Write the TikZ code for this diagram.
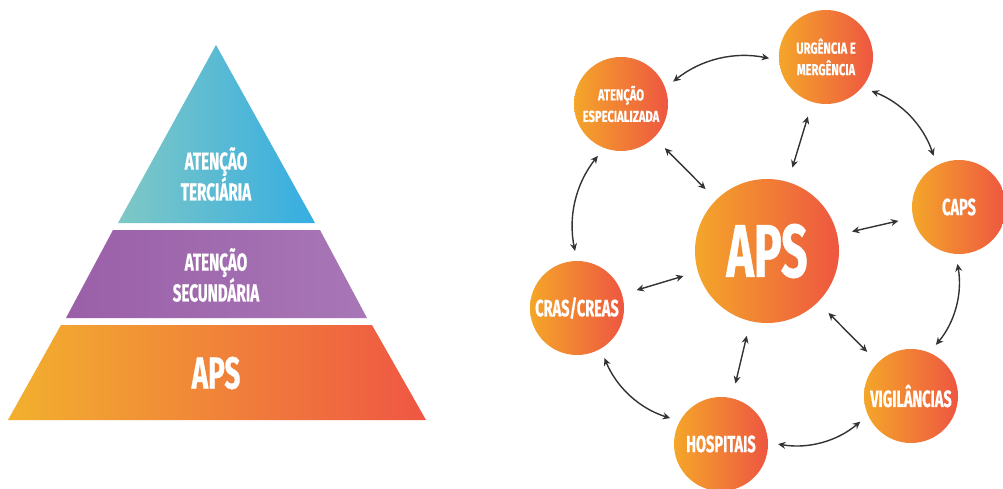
\documentclass[tikz,border=0pt]{standalone}
\usepackage{fontspec}
\newfontfamily\condfont[FakeStretch=0.62,FakeBold=0.6]{Fira Sans}
\newfontfamily\smallcondfont[FakeStretch=0.7,FakeBold=0.4]{Fira Sans}
\usetikzlibrary{arrows.meta}
\definecolor{tealL}{HTML}{7FC8C5}
\definecolor{tealR}{HTML}{35ADE2}
\definecolor{violetL}{HTML}{9A5FA8}
\definecolor{violetR}{HTML}{A877B6}
\definecolor{apsL}{HTML}{F2B02E}
\definecolor{apsR}{HTML}{EF5644}
\definecolor{ringL}{HTML}{F4A62A}
\definecolor{ringR}{HTML}{EE5641}
\definecolor{arrowgray}{HTML}{333333}
\begin{document}
\begin{tikzpicture}[
  x=1pt, y=1pt,
  whitetext/.style={text=white, align=center, inner sep=0pt},
  pyrtext/.style={whitetext, font=\condfont\bfseries\fontsize{24.5}{25.5}\selectfont},
  ring/.style={whitetext, circle, minimum size=94pt, left color=ringL, right color=ringR},
  smalltext/.style={font=\smallcondfont\bfseries\fontsize{16}{21.5}\selectfont},
  bigtext/.style={font=\condfont\bfseries\fontsize{23.5}{24}\selectfont},
  hub/.style={ring, minimum size=144pt, font=\condfont\bfseries\fontsize{75}{75}\selectfont},
  link/.style={draw=arrowgray, line width=1.4pt,
    {Stealth[length=7.5pt,width=7pt]}-{Stealth[length=7.5pt,width=7pt]},
    shorten <=10pt, shorten >=10pt},
  spoke/.style={link, shorten <=15pt, shorten >=15pt}
]
  \fill[white] (0,0) rectangle (1003,-489);
  \useasboundingbox (0,0) rectangle (1003,-489);

  % piramide
  \shade[left color=tealL, right color=tealR] (216,-45) -- (315,-223) -- (118,-223) -- cycle;
  \shade[left color=violetL, right color=violetR] (113,-230) -- (320,-230) -- (367,-318) -- (66,-318) -- cycle;
  \shade[left color=apsL, right color=apsR] (61,-325) -- (372,-325) -- (426,-420) -- (8,-420) -- cycle;
  \node[pyrtext] (terc) at (216,-174) {ATENÇÃO\\TERCIÁRIA};
  \node[pyrtext] (sec) at (216,-275) {ATENÇÃO\\SECUNDÁRIA};
  \node[whitetext, font=\condfont\bfseries\fontsize{45}{45}\selectfont] (base) at (216,-373) {APS};

  % rede
  \node[hub] (aps) at (767,-251) {APS};
  \node[ring, smalltext] (urg) at (826,-57) {URGÊNCIA E\\MERGÊNCIA};
  \node[ring, smalltext] (esp) at (621,-104) {ATENÇÃO\\ESPECIALIZADA};
  \node[ring, bigtext] (caps) at (959,-207) {CAPS};
  \node[ring, bigtext] (vig) at (911,-396) {VIGILÂNCIAS};
  \node[ring, bigtext] (hosp) at (721,-444) {HOSPITAIS};
  \node[ring, bigtext] (cras) at (577,-308) {CRAS/CREAS};

  \draw[link] (esp.20) to[bend left=25] (urg.184);
  \draw[link] (urg.320) to[bend left=25] (caps.118);
  \draw[link] (caps.266) to[bend left=25] (vig.67);
  \draw[link] (vig.204) to[bend left=25] (hosp.2);
  \draw[link] (hosp.151) to[bend left=25] (cras.300);
  \draw[link] (cras.90) to[bend left=25] (esp.249);

  \draw[spoke] (aps) -- (esp);
  \draw[spoke] (aps) -- (urg);
  \draw[spoke] (aps) -- (caps);
  \draw[spoke] (aps) -- (vig);
  \draw[spoke] (aps) -- (hosp);
  \draw[spoke] (aps) -- (cras);
\end{tikzpicture}
\end{document}
